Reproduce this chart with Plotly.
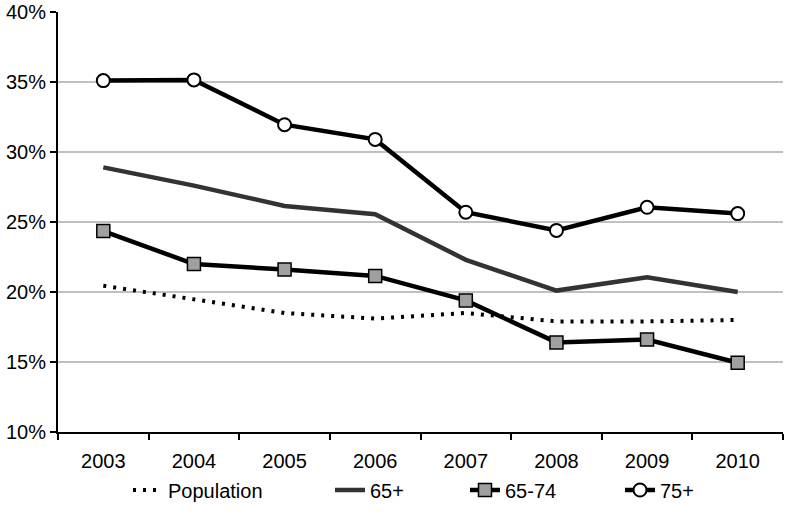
import plotly.graph_objects as go

years = ["2003", "2004", "2005", "2006", "2007", "2008", "2009", "2010"]
population = [20.45, 19.5, 18.5, 18.1, 18.5, 17.9, 17.9, 18.0]
age65plus = [28.9, 27.6, 26.15, 25.55, 22.3, 20.1, 21.05, 20.0]
age65_74 = [24.35, 22.0, 21.6, 21.15, 19.4, 16.4, 16.6, 14.95]
age75plus = [35.1, 35.15, 31.95, 30.9, 25.7, 24.4, 26.05, 25.6]
y_ticks = [10, 15, 20, 25, 30, 35, 40]
y_labels = ["10%", "15%", "20%", "25%", "30%", "35%", "40%"]

font = "Liberation Sans, Arial, sans-serif"

fig = go.Figure()
fig.add_trace(go.Scatter(x=years, y=population, name="Population", mode="lines",
                         legend="legend",
                         line=dict(color="black", width=4, dash="3px,7px")))
fig.add_trace(go.Scatter(x=years, y=age65plus, name="65+", mode="lines",
                         legend="legend2",
                         line=dict(color="#333333", width=4.5)))
fig.add_trace(go.Scatter(x=years, y=age65_74, name="65-74", mode="lines+markers",
                         legend="legend3",
                         line=dict(color="black", width=4.5),
                         marker=dict(symbol="square", size=13, color="#a0a0a0",
                                     line=dict(color="black", width=1.5))))
fig.add_trace(go.Scatter(x=years, y=age75plus, name="75+", mode="lines+markers",
                         legend="legend4",
                         line=dict(color="black", width=4.5),
                         marker=dict(symbol="circle", size=13, color="white",
                                     line=dict(color="black", width=2))))

W, H = 786, 516
ML, MR, MT, MB = 58, 3, 12, 84
pw = W - ML - MR
ph = H - MT - MB


def leg(text_x):
    return dict(orientation="h", x=(text_x - 42 - ML) / pw, xanchor="left",
                y=(H - MB - 490) / ph, yanchor="middle",
                font=dict(size=20), bgcolor="rgba(0,0,0,0)")


fig.update_layout(
    width=W, height=H,
    margin=dict(l=ML, r=MR, t=MT, b=MB),
    paper_bgcolor="white", plot_bgcolor="white",
    font=dict(family=font, size=20, color="black"),
    showlegend=True,
    legend=leg(170), legend2=leg(372), legend3=leg(507), legend4=leg(662),
    xaxis=dict(type="category", range=[-0.5, 7.5], showgrid=False,
               showline=True, linecolor="black", linewidth=2,
               ticks="outside", tickson="boundaries", ticklen=6, tickwidth=2,
               tickcolor="black", tickfont=dict(size=20), automargin=False,
               ticklabelstandoff=10),
    yaxis=dict(range=[10, 40], tickvals=y_ticks, ticktext=y_labels,
               showgrid=True, gridcolor="#c0c0c0", gridwidth=1.5,
               showline=True, linecolor="black", linewidth=2,
               ticks="outside", ticklen=6, tickwidth=2, tickcolor="black",
               tickfont=dict(size=20), zeroline=False, automargin=False),
)

fig.write_html("out.html", config={"displayModeBar": False},
               post_script="document.body.style.margin='0';document.body.style.overflow='hidden';")
